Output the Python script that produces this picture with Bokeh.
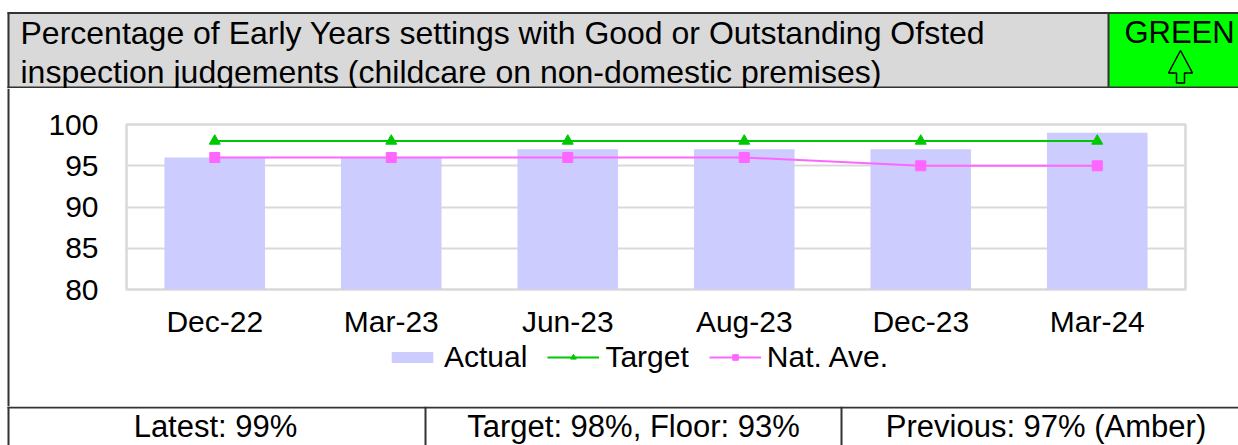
from bokeh.plotting import figure
from bokeh.layouts import column, row
from bokeh.models import Range1d, FactorRange, Legend, LegendItem, FixedTicker
from bokeh.embed import file_html
from bokeh.resources import INLINE
from bokeh.core.properties import value

# ---- data ----
categories = ["Dec-22", "Mar-23", "Jun-23", "Aug-23", "Dec-23", "Mar-24"]
actual = [96, 96, 97, 97, 97, 99]
target = [98, 98, 98, 98, 98, 98]
nat_ave = [96, 96, 96, 96, 95, 95]
y_ticks = [80, 85, 90, 95, 100]
series_names = ["Actual", "Target", "Nat. Ave."]
title_lines = [
    "Percentage of Early Years settings with Good or Outstanding Ofsted",
    "inspection judgements (childcare on non-domestic premises)",
]
status_text = "GREEN"
footer_texts = ["Latest: 99%", "Target: 98%, Floor: 93%", "Previous: 97% (Amber)"]

FONT_NAME = "Liberation Sans"
FONT = value(FONT_NAME)
EDGE = "#333333"
BAR = "#ccccff"
GREEN_LINE = "#00c800"
PINK = "#ff66ff"
W = 1238
LB = 10          # width of the left-border strip


def blank(width, height, xr, yr):
    f = figure(width=width, height=height, x_range=xr, y_range=yr,
               output_backend="svg", toolbar_location=None,
               x_axis_location=None, y_axis_location=None, min_border=0)
    f.grid.visible = False
    f.outline_line_color = None
    f.background_fill_color = "white"
    f.border_fill_color = "white"
    return f


# ---- header (y 0..88) ----
HH = 88
hdr = blank(W, HH, Range1d(0, W), Range1d(HH, 0))
hdr.quad(left=[7], right=[1108], top=[12], bottom=[HH], fill_color="#d9d9d9", line_color=None)
hdr.quad(left=[1108], right=[W], top=[12], bottom=[HH], fill_color="#00ff00", line_color=None)
hdr.segment(x0=[7, 8, 1108, 7], y0=[12.5, 12, 12, 87], x1=[W, 8, 1108, W], y1=[12.5, HH, HH, 87],
            line_color=EDGE, line_width=2)
hdr.text(x=[20, 20], y=[32.5, 71], text=title_lines, text_font=FONT, text_font_size="32px",
         text_baseline="middle", text_align="left", text_color="black")
hdr.text(x=[1179], y=[31.5], text=[status_text], text_font=FONT, text_font_size="31px",
         text_baseline="middle", text_align="center", text_color="black")
# up arrow outline
hdr.patch(x=[1180, 1192, 1184, 1184, 1176, 1176, 1168, 1180],
          y=[50, 72.5, 72.5, 82.5, 82.5, 72.5, 72.5, 50],
          fill_color="#00ff00", line_color="black", line_width=1.5)

# ---- left border strip for chart + legend (y 88..406) ----
MID = 318
lb = blank(LB, MID, Range1d(0, LB), Range1d(0, 1))
lb.quad(left=[7], right=[9], top=[1], bottom=[0], fill_color=EDGE, line_color=None)

# ---- chart (y 88..340) ----
CH = 252
ch = figure(width=W - LB, height=CH, x_range=FactorRange(*categories, range_padding=0),
            y_range=Range1d(80, 100), output_backend="svg", toolbar_location=None,
            min_border_left=116, min_border_right=53, min_border_top=36, min_border_bottom=51)
ch.background_fill_color = "white"
ch.border_fill_color = "white"
ch.outline_line_color = "#d9d9d9"
ch.outline_line_width = 2.5
ch.xgrid.visible = False
ch.ygrid.grid_line_color = "#d9d9d9"
ch.ygrid.grid_line_width = 2
ch.yaxis.ticker = FixedTicker(ticks=y_ticks)

for ax in (ch.xaxis[0], ch.yaxis[0]):
    ax.axis_line_color = None
    ax.major_tick_line_color = None
    ax.minor_tick_line_color = None
    ax.major_label_text_font = FONT_NAME
    ax.major_label_text_font_size = "30px"
    ax.major_label_text_color = "black"
ch.yaxis.major_label_standoff = 22
ch.xaxis.major_label_standoff = 9

ch.vbar(x=categories, top=actual, bottom=80, width=0.57, fill_color=BAR, line_color=None)
ch.line(categories, target, line_color=GREEN_LINE, line_width=2)
ch.scatter(categories, target, marker="triangle", size=11,
           fill_color=GREEN_LINE, line_color=GREEN_LINE)
ch.line(categories, nat_ave, line_color=PINK, line_width=2)
ch.scatter(categories, nat_ave, marker="square", size=10, fill_color=PINK, line_color=PINK)

# ---- legend strip (y 340..406); its sample glyphs sit outside the visible range ----
LH = MID - CH
lg = blank(W - LB, LH, Range1d(0, 1), Range1d(0, 1))
off = [5, 6]
lb_bar = lg.vbar(x=off, top=off, bottom=4, width=0.5, fill_color=BAR, line_color=None)
lb_tl = lg.line(x=off, y=off, line_color=GREEN_LINE, line_width=2)
lb_ts = lg.scatter(x=off, y=off, marker="triangle", size=11, fill_color=GREEN_LINE, line_color=GREEN_LINE)
lb_nl = lg.line(x=off, y=off, line_color=PINK, line_width=2)
lb_ns = lg.scatter(x=off, y=off, marker="square", size=10, fill_color=PINK, line_color=PINK)

legend = Legend(items=[LegendItem(label=series_names[0], renderers=[lb_bar]),
                       LegendItem(label=series_names[1], renderers=[lb_tl, lb_ts]),
                       LegendItem(label=series_names[2], renderers=[lb_nl, lb_ns])],
                orientation="horizontal", location=(260, 32))
legend.background_fill_alpha = 0
legend.border_line_color = None
legend.padding = 0
legend.margin = 0
legend.spacing = 20
legend.glyph_width = 52
legend.glyph_height = 14
legend.label_standoff = 6
legend.label_text_font = FONT_NAME
legend.label_text_font_size = "30px"
legend.label_text_color = "black"
lg.add_layout(legend)

# ---- footer (y 406..445) ----
FH = 445 - HH - MID
ft = blank(W, FH, Range1d(0, W), Range1d(FH, 0))
ft.segment(x0=[7, 8, 425, 841], y0=[1, 0, 0, 0], x1=[W, 8, 425, 841], y1=[1, FH, FH, FH],
           line_color=EDGE, line_width=2)
ft.text(x=[215, 633, 1045.5], y=[20, 20, 20], text=footer_texts, text_font=FONT,
        text_font_size="31px", text_baseline="middle", text_align="center",
        text_color="black")

layout = column(hdr, row(lb, column(ch, lg)), ft)
open("out.html", "w").write(file_html(layout, INLINE))
